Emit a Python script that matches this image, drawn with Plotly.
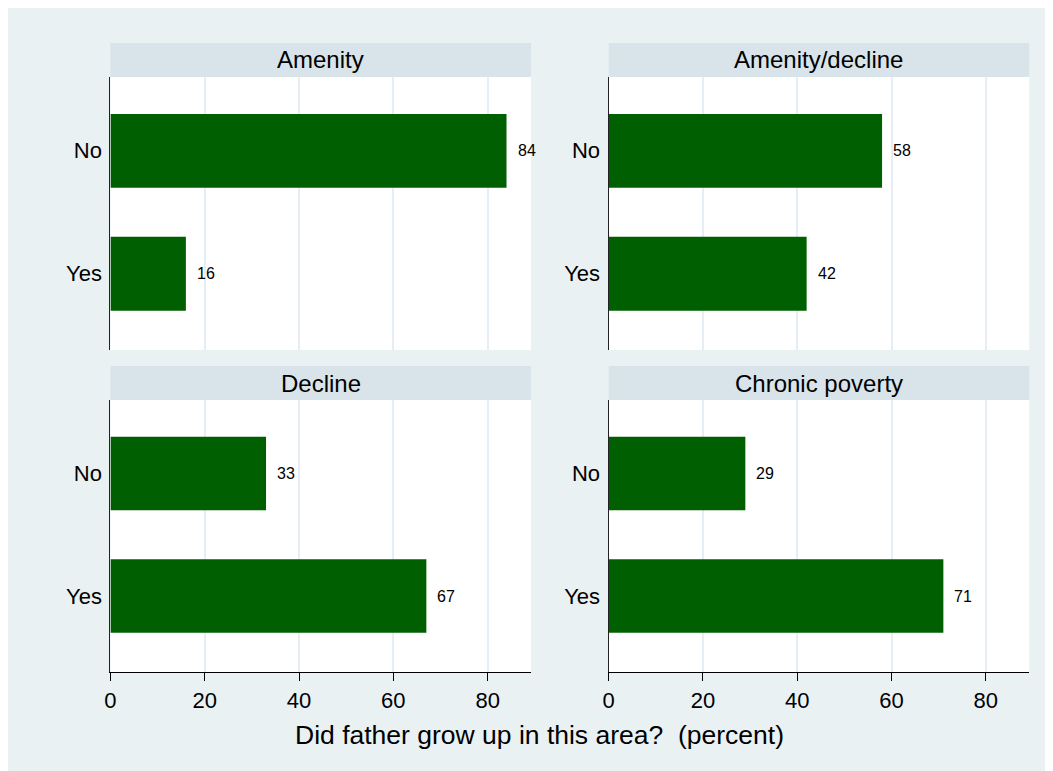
import plotly.graph_objects as go

# ---- data ----
panels = ["Amenity", "Amenity/decline", "Decline", "Chronic poverty"]
categories = ["No", "Yes"]
no_pct = [84, 58, 33, 29]
yes_pct = [16, 42, 67, 71]
x_ticks = [0, 20, 40, 60, 80]
x_title = "Did father grow up in this area?  (percent)"

W, H = 1053, 771
BG = "#EAF1F3"
STRIP = "#D8E4EA"
GRID = "#E6EEF3"
BAR = "#005F00"
FONT = "Liberation Sans, Arial, sans-serif"

# pixel layout of subplots (figure coordinates)
col_x = [(97, 520), (598, 1021)]
row_y = [(69, 342), (392, 664)]   # top/bottom pixel of plot area
strip_h = 34

fig = go.Figure()

layout = dict(
    width=W, height=H,
    margin=dict(l=0, r=0, t=0, b=0),
    paper_bgcolor=BG, plot_bgcolor="white",
    showlegend=False,
    font=dict(family=FONT, color="black", size=22),
)
shapes = []
annotations = []

for i, name in enumerate(panels):
    r, c = divmod(i, 2)
    n = i + 1
    xa = "x" if n == 1 else f"x{n}"
    ya = "y" if n == 1 else f"y{n}"
    xd = [col_x[c][0] / W, col_x[c][1] / W]
    yd = [1 - row_y[r][1] / H, 1 - row_y[r][0] / H]
    bottom = r == 1

    vals = [no_pct[i], yes_pct[i]]
    fig.add_trace(go.Bar(
        x=vals, y=categories, orientation="h",
        marker=dict(color=BAR, line=dict(width=0)),
        width=0.6, xaxis=xa, yaxis=ya, hoverinfo="x+y",
    ))
    for cat, v in zip(categories, vals):
        annotations.append(dict(
            x=v, y=cat, xref=xa, yref=ya, text=str(v), showarrow=False,
            xanchor="left", yanchor="middle", xshift=9,
            font=dict(size=16, family=FONT, color="black"),
        ))

    layout["xaxis" + ("" if n == 1 else str(n))] = dict(
        domain=xd, anchor=ya, range=[0, 89.2],
        tickvals=x_ticks, showgrid=True, gridcolor=GRID, gridwidth=2,
        zeroline=False,
        showline=bottom, linecolor="black", linewidth=1.3,
        ticks="outside" if bottom else "", ticklen=8, tickwidth=1.3,
        tickcolor="black",
        showticklabels=bottom, tickfont=dict(size=22, family=FONT),
        fixedrange=True,
    )
    layout["yaxis" + ("" if n == 1 else str(n))] = dict(
        domain=yd, anchor=xa, type="category",
        categoryorder="array", categoryarray=["Yes", "No"],
        range=[-0.62, 1.60],
        showgrid=False, zeroline=False,
        showline=True, linecolor="#222222", linewidth=1.3,
        ticks="outside", ticklen=3, tickcolor="rgba(0,0,0,0)",
        tickfont=dict(size=22, family=FONT),
        fixedrange=True,
    )

    # strip header
    top = row_y[r][0]
    shapes.append(dict(
        type="rect", xref="paper", yref="paper",
        x0=xd[0], x1=xd[1], y0=1 - top / H, y1=1 - (top - strip_h) / H,
        fillcolor=STRIP, line=dict(width=0), layer="above",
    ))
    annotations.append(dict(
        x=(xd[0] + xd[1]) / 2, y=1 - (top - strip_h / 2) / H,
        xref="paper", yref="paper", text=name, showarrow=False,
        xanchor="center", yanchor="middle",
        font=dict(size=24, family=FONT, color="black"),
    ))

annotations.append(dict(
    x=528.5 / W, y=1 - 727 / H, xref="paper", yref="paper",
    text=x_title.replace("  ", " \u00a0"),
    showarrow=False, xanchor="center", yanchor="middle",
    font=dict(size=26.5, family=FONT, color="black"),
))

layout["shapes"] = shapes
layout["annotations"] = annotations
fig.update_layout(**layout)
fig.update_traces(cliponaxis=False)

fig.write_html("out.html")
